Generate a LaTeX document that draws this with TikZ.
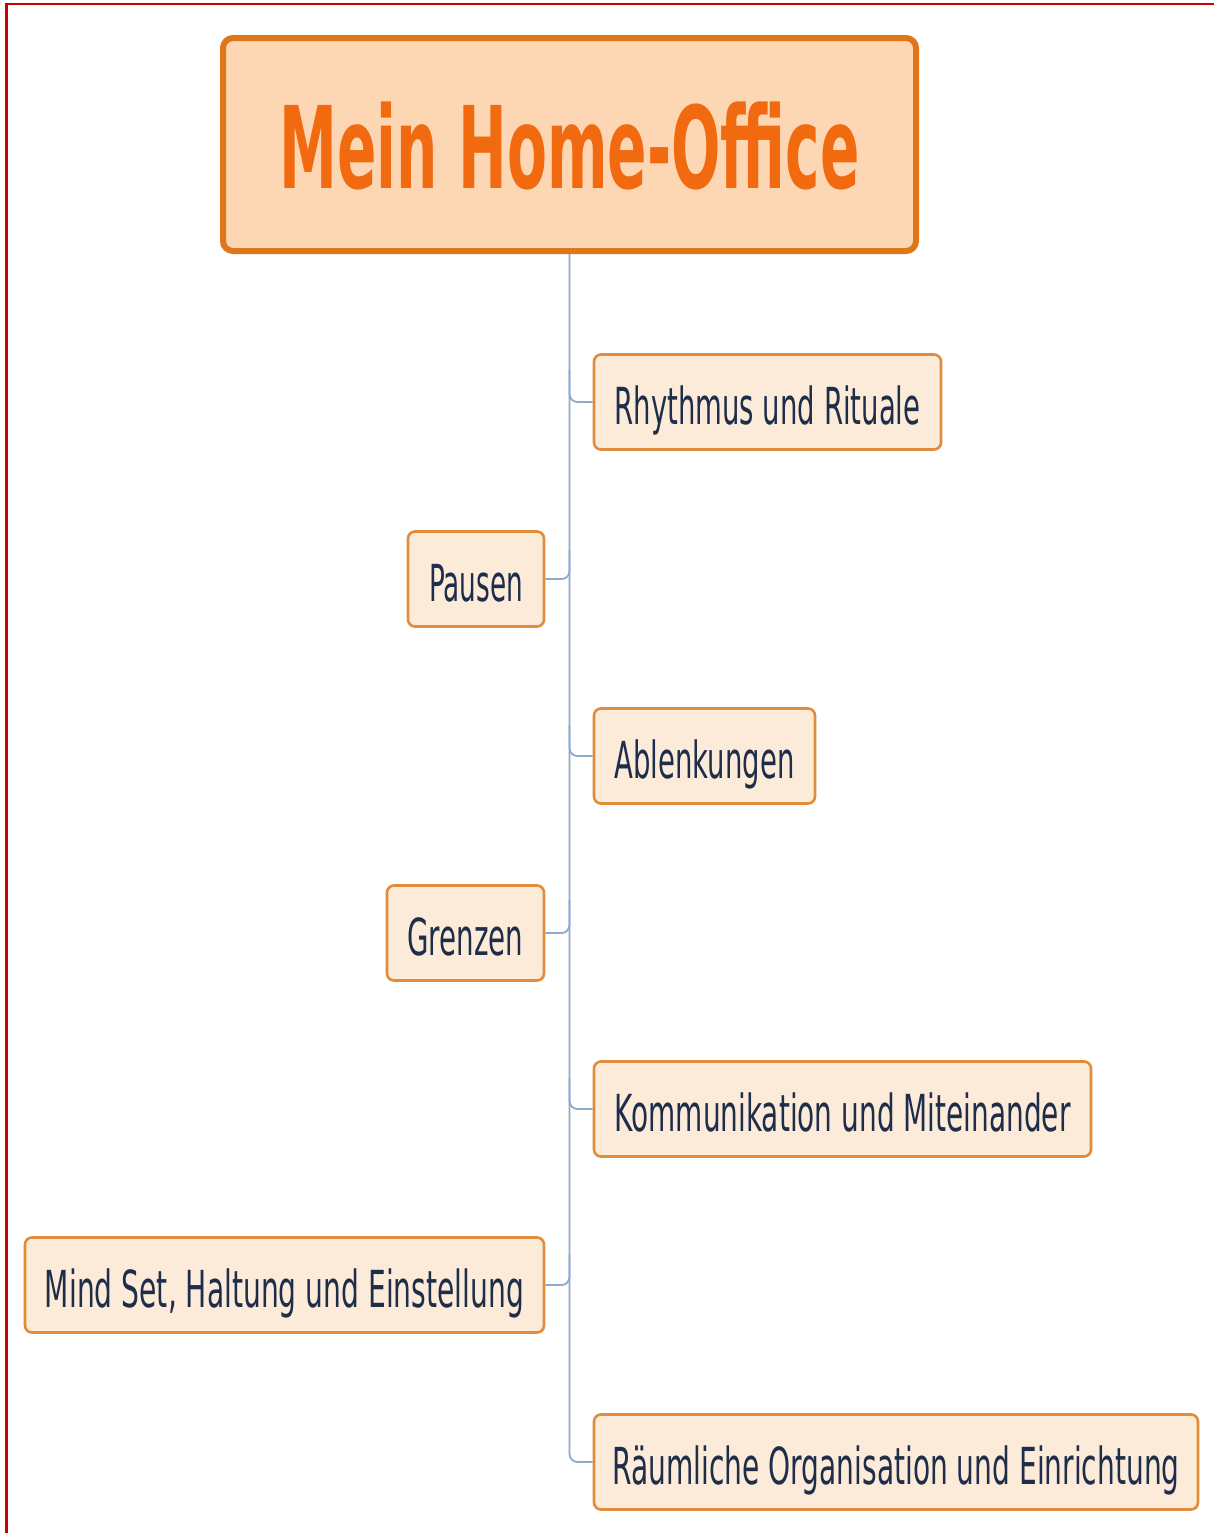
\documentclass[tikz,border=0pt]{standalone}
\usepackage{fontspec}
\usepackage{graphicx}
\setmainfont{DejaVu Sans}
\definecolor{frame}{HTML}{CC0000}
\definecolor{titlefill}{HTML}{FDD6B3}
\definecolor{titledraw}{HTML}{E0761A}
\definecolor{titletext}{HTML}{F26A10}
\definecolor{boxfill}{HTML}{FCEBD8}
\definecolor{boxdraw}{HTML}{E08C3A}
\definecolor{labeltext}{HTML}{1E2D4A}
\definecolor{conncol}{HTML}{8EAACB}
\newcommand{\lbl}[2]{\resizebox{#1pt}{\height}{\fontsize{51}{51}\selectfont #2}}
\begin{document}
\begin{tikzpicture}[x=1pt,y=-1pt,
  topicbox/.style={draw=boxdraw, fill=boxfill, line width=2.6pt, rounded corners=7pt,
    inner sep=0pt, minimum height=95pt, text=labeltext, text height=50pt, text depth=6pt, align=center},
  titlebox/.style={draw=titledraw, fill=titlefill, line width=6pt, rounded corners=10pt,
    inner sep=0pt, minimum width=693pt, minimum height=213pt, text=titletext,
    text height=90pt, text depth=3pt},
  conn/.style={draw=conncol, line width=1.8pt, rounded corners=8pt}]
\useasboundingbox (0,0) rectangle (1214,1535);
\fill[white] (0,0) rectangle (1214,1535);
\draw[frame, line width=2.4pt] (6.5,1533) -- (6.5,3.8) -- (1214,3.8);

\node[titlebox] (title) at (569.5,144.5)
  {\resizebox{580pt}{\height}{\fontsize{114}{114}\selectfont\bfseries Mein Home-Office}};

\node[topicbox, minimum width=347pt] (rhy) at (767.5,402) {\lbl{306}{Rhythmus und Rituale}};
\node[topicbox, minimum width=136pt] (pau) at (476,579) {\lbl{94}{Pausen}};
\node[topicbox, minimum width=221pt] (abl) at (704.5,756) {\lbl{180}{Ablenkungen}};
\node[topicbox, minimum width=157pt] (gre) at (465.5,933) {\lbl{116}{Grenzen}};
\node[topicbox, minimum width=497pt] (kom) at (842.5,1109) {\lbl{456}{Kommunikation und Miteinander}};
\node[topicbox, minimum width=519pt] (min) at (284.5,1285) {\lbl{479}{Mind Set, Haltung und Einstellung}};
\node[topicbox, minimum width=604pt] (rau) at (896,1462) {\lbl{567}{Räumliche Organisation und Einrichtung}};

\coordinate (jr1) at (569.5,370);
\coordinate (jl1) at (569.5,550);
\coordinate (jr2) at (569.5,725);
\coordinate (jl2) at (569.5,900);
\coordinate (jr3) at (569.5,1078);
\coordinate (jl3) at (569.5,1255);

\path[conn] (title.south) |- (rau.west);
\path[conn] (jr1) |- (rhy.west);
\path[conn] (pau.east) -| (jl1);
\path[conn] (jr2) |- (abl.west);
\path[conn] (gre.east) -| (jl2);
\path[conn] (jr3) |- (kom.west);
\path[conn] (min.east) -| (jl3);
\end{tikzpicture}
\end{document}
